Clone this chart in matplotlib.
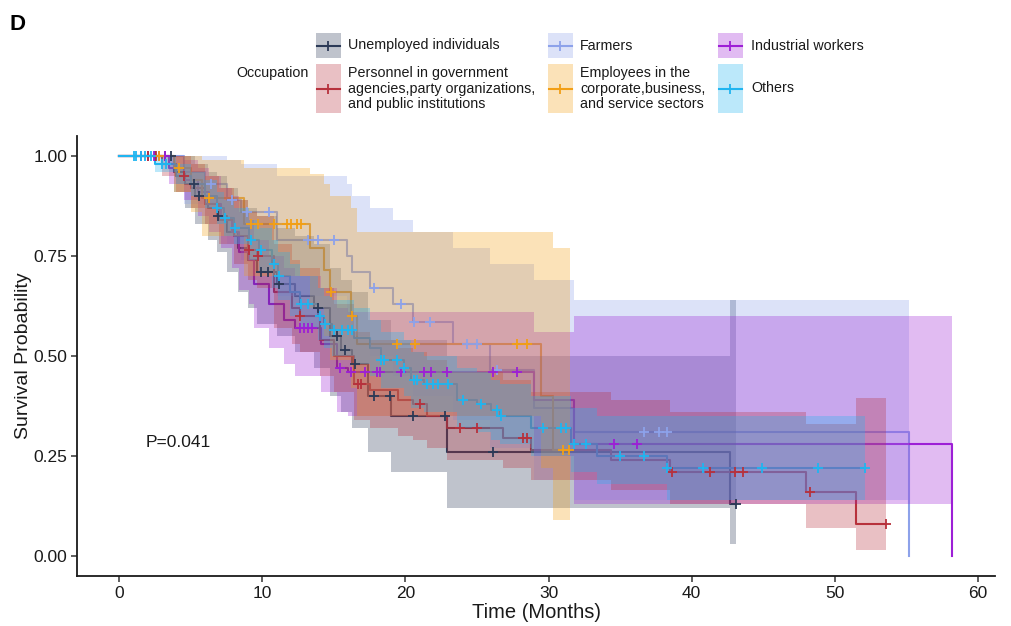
import numpy as np
import matplotlib
matplotlib.use("Agg")
import matplotlib.pyplot as plt
from matplotlib.patches import Rectangle

plt.rcParams['font.family'] = ['Liberation Sans', 'DejaVu Sans']

# ---------------- data ----------------
group_names = ["Unemployed individuals", "Farmers", "Industrial workers",
               "Personnel in government\nagencies,party organizations,\nand public institutions",
               "Employees in the\ncorporate,business,\nand service sectors",
               "Others"]
group_colors = ["#2C3A57", "#8DA2EA", "#9D1FD6", "#B7313C", "#F29F16", "#20B5F0"]

# Unemployed individuals
unemp_t = [0, 3.8, 4.6, 5.3, 6.2, 6.8, 7.5, 8.3, 9.0, 9.6, 11.0, 12.3, 13.6, 14.7, 15.5, 16.3, 17.4, 19.0, 22.9, 42.7, 43.1]
unemp_s = [1.0, 0.96, 0.93, 0.90, 0.87, 0.85, 0.81, 0.77, 0.74, 0.71, 0.68, 0.65, 0.62, 0.55, 0.515, 0.48, 0.40, 0.35, 0.26, 0.13, 0.13]
unemp_lo = [1.0, 0.91, 0.87, 0.83, 0.79, 0.76, 0.71, 0.66, 0.62, 0.58, 0.55, 0.51, 0.47, 0.40, 0.36, 0.32, 0.26, 0.21, 0.12, 0.03, 0.03]
unemp_hi = [1.0, 1.0, 1.0, 0.98, 0.96, 0.95, 0.92, 0.89, 0.87, 0.85, 0.82, 0.80, 0.78, 0.72, 0.69, 0.66, 0.59, 0.54, 0.50, 0.64, 0.64]
unemp_cens = [2.5, 3.2, 3.6, 5.2, 5.6, 6.9, 9.9, 10.4, 11.2, 13.9, 15.2, 15.8, 16.5, 17.8, 18.9, 20.5, 22.8, 26.1, 43.1]

# Farmers
farm_t = [0, 4.5, 6.0, 7.5, 8.5, 11.0, 15.9, 16.3, 17.5, 19.1, 20.5, 23.3, 25.9, 29.0, 31.8, 55.2]
farm_s = [1.0, 0.96, 0.93, 0.89, 0.86, 0.79, 0.75, 0.71, 0.67, 0.63, 0.585, 0.53, 0.465, 0.37, 0.31, 0.0]
farm_lo = [1.0, 0.88, 0.83, 0.78, 0.74, 0.65, 0.60, 0.55, 0.50, 0.45, 0.40, 0.34, 0.27, 0.19, 0.14, 0.0]
farm_hi = [1.0, 1.0, 1.0, 0.99, 0.98, 0.95, 0.93, 0.90, 0.87, 0.84, 0.81, 0.77, 0.73, 0.69, 0.64, 0.0]
farm_cens = [6.4, 7.9, 8.9, 10.5, 13.2, 13.9, 15.0, 17.8, 19.7, 20.6, 21.7, 24.3, 25.0, 26.4, 36.7, 37.7, 38.3]

# Industrial workers
ind_t = [0, 3.5, 4.5, 5.5, 6.3, 7.1, 7.9, 8.4, 9.1, 9.4, 10.5, 11.5, 12.3, 14.1, 15.2, 16.0, 29.0, 31.8, 58.2]
ind_s = [1.0, 0.97, 0.94, 0.91, 0.88, 0.845, 0.81, 0.76, 0.74, 0.68, 0.63, 0.59, 0.57, 0.53, 0.47, 0.46, 0.39, 0.28, 0.0]
ind_lo = [1.0, 0.93, 0.89, 0.85, 0.81, 0.77, 0.72, 0.665, 0.63, 0.57, 0.52, 0.48, 0.45, 0.41, 0.36, 0.35, 0.25, 0.13, 0.0]
ind_hi = [1.0, 1.0, 0.99, 0.97, 0.95, 0.92, 0.90, 0.86, 0.84, 0.79, 0.75, 0.72, 0.70, 0.67, 0.62, 0.61, 0.56, 0.60, 0.0]
ind_cens = [1.5, 2.0, 2.4, 2.8, 3.2, 12.6, 12.9, 13.2, 13.5, 15.4, 16.2, 17.2, 18.0, 18.2, 19.7, 21.3, 21.8, 22.9, 26.1, 27.8, 34.6, 36.2]

# Personnel in government agencies...
pers_t = [0, 3.0, 4.0, 5.0, 6.0, 7.0, 8.0, 9.0, 9.6, 10.8, 12.1, 12.6, 14.0, 15.0, 16.4, 17.5, 19.5, 20.5, 21.5, 22.9, 26.8, 28.8, 34.4, 38.5, 48.0, 51.5, 53.6]
pers_s = [1.0, 0.98, 0.95, 0.92, 0.88, 0.84, 0.80, 0.765, 0.75, 0.66, 0.62, 0.60, 0.54, 0.50, 0.43, 0.415, 0.39, 0.38, 0.35, 0.32, 0.295, 0.265, 0.24, 0.21, 0.16, 0.08, 0.08]
pers_lo = [1.0, 0.95, 0.91, 0.87, 0.83, 0.78, 0.73, 0.69, 0.67, 0.57, 0.53, 0.51, 0.45, 0.41, 0.34, 0.32, 0.30, 0.29, 0.27, 0.24, 0.22, 0.19, 0.165, 0.13, 0.07, 0.015, 0.015]
pers_hi = [1.0, 1.0, 1.0, 0.98, 0.95, 0.92, 0.89, 0.86, 0.85, 0.78, 0.74, 0.72, 0.67, 0.63, 0.56, 0.54, 0.52, 0.51, 0.49, 0.46, 0.44, 0.41, 0.39, 0.36, 0.33, 0.395, 0.395]
pers_cens = [2.0, 2.6, 4.5, 9.1, 9.7, 12.6, 16.7, 16.9, 21.0, 23.8, 25.0, 28.2, 28.5, 38.6, 41.3, 43.0, 43.6, 48.3, 53.6]

# Employees in the corporate, business and service sectors
empl_t = [0, 3.8, 5.0, 5.8, 8.7, 13.3, 14.3, 14.7, 16.2, 16.6, 29.5, 30.3, 31.5]
empl_s = [1.0, 0.97, 0.94, 0.895, 0.83, 0.77, 0.715, 0.66, 0.60, 0.53, 0.40, 0.265, 0.265]
empl_lo = [1.0, 0.91, 0.86, 0.80, 0.70, 0.62, 0.55, 0.49, 0.42, 0.35, 0.22, 0.09, 0.09]
empl_hi = [1.0, 1.0, 1.0, 0.99, 0.97, 0.955, 0.93, 0.90, 0.87, 0.81, 0.81, 0.77, 0.77]
empl_cens = [2.8, 4.2, 6.3, 9.2, 9.7, 10.8, 11.7, 12.0, 12.4, 12.7, 14.8, 16.3, 19.4, 20.7, 27.8, 28.5, 31.0, 31.4]

# Others
oth_t = [0, 2.5, 4.0, 5.0, 6.0, 6.8, 7.3, 8.0, 9.1, 9.8, 10.7, 11.1, 11.9, 12.6, 13.9, 14.3, 14.9, 16.4, 17.5, 18.3, 19.9, 20.4, 21.3, 23.6, 25.0, 26.0, 26.6, 28.8, 31.6, 33.4, 38.3, 52.1]
oth_s = [1.0, 0.98, 0.95, 0.93, 0.90, 0.87, 0.845, 0.82, 0.79, 0.765, 0.73, 0.70, 0.66, 0.63, 0.60, 0.58, 0.565, 0.545, 0.52, 0.49, 0.47, 0.44, 0.43, 0.39, 0.38, 0.365, 0.35, 0.32, 0.28, 0.25, 0.22, 0.22]
oth_lo = [1.0, 0.96, 0.93, 0.90, 0.87, 0.83, 0.80, 0.78, 0.74, 0.71, 0.67, 0.64, 0.60, 0.57, 0.54, 0.52, 0.50, 0.48, 0.45, 0.42, 0.40, 0.37, 0.36, 0.32, 0.31, 0.29, 0.28, 0.25, 0.21, 0.18, 0.14, 0.14]
oth_hi = [1.0, 1.0, 0.98, 0.96, 0.94, 0.91, 0.89, 0.87, 0.84, 0.82, 0.79, 0.76, 0.73, 0.70, 0.67, 0.65, 0.64, 0.62, 0.59, 0.56, 0.54, 0.51, 0.50, 0.47, 0.46, 0.44, 0.43, 0.40, 0.37, 0.35, 0.35, 0.35]
oth_cens = [1.0, 1.2, 1.5, 1.8, 2.2, 3.0, 3.3, 6.8, 7.4, 8.1, 9.2, 9.9, 10.8, 11.2, 12.7, 13.2, 14.0, 14.4, 15.0, 15.6, 16.0, 16.3,
            18.3, 18.5, 19.4, 19.9, 20.6, 20.8, 21.5, 21.9, 22.3, 23.0, 24.0, 25.3, 26.4, 26.7, 29.6, 30.9, 31.2, 31.8, 32.6,
            35.0, 36.7, 38.3, 40.8, 44.9, 48.8, 52.1]

x_ticks = [0, 10, 20, 30, 40, 50, 60]
y_ticks = [0.0, 0.25, 0.5, 0.75, 1.0]
y_tick_labels = ["0.00", "0.25", "0.50", "0.75", "1.00"]
p_text = "P=0.041"
p_pos = (1.85, 0.283)

groups = [
    (unemp_t, unemp_s, unemp_lo, unemp_hi, unemp_cens),
    (farm_t, farm_s, farm_lo, farm_hi, farm_cens),
    (ind_t, ind_s, ind_lo, ind_hi, ind_cens),
    (pers_t, pers_s, pers_lo, pers_hi, pers_cens),
    (empl_t, empl_s, empl_lo, empl_hi, empl_cens),
    (oth_t, oth_s, oth_lo, oth_hi, oth_cens),
]

# ---------------- figure ----------------
W, H = 1012, 626
fig = plt.figure(figsize=(W / 100, H / 100), dpi=100)
ax = fig.add_axes([77 / W, 1 - 576 / H, (995 - 77) / W, (576 - 136) / H])

band_alpha = 0.3
line_w = 1.5
mark_size = 7.5
mark_w = 1.3
for (t, s, lo, hi, c), col in zip(groups, group_colors):
    ax.step(t, s, where='post', color=col, lw=line_w, zorder=2)
for (t, s, lo, hi, c), col in zip(groups, group_colors):
    ax.fill_between(t, lo, hi, step='post', color=col, alpha=band_alpha, lw=0, zorder=3)
for (t, s, lo, hi, c), col in zip(groups, group_colors):
    t_arr = np.asarray(t)
    s_arr = np.asarray(s)
    idx = np.searchsorted(t_arr, np.asarray(c), side='right') - 1
    idx = np.clip(idx, 0, len(s_arr) - 1)
    ax.plot(c, s_arr[idx], linestyle='none', marker='+', ms=mark_size, mew=mark_w, color=col, zorder=4)

ax.set_xlim(-2.95, 61.2)
ax.set_ylim(-0.05, 1.05)
ax.set_xticks(x_ticks)
ax.set_yticks(y_ticks)
ax.set_yticklabels(y_tick_labels)
for sp in ['top', 'right']:
    ax.spines[sp].set_visible(False)
for sp in ['left', 'bottom']:
    ax.spines[sp].set_linewidth(1.3)
    ax.spines[sp].set_color('#1a1a1a')
ax.tick_params(axis='both', direction='out', length=4, width=1.1, color='#333333',
               labelsize=12.5, labelcolor='#1a1a1a', pad=3)
ax.set_xlabel("Time (Months)", fontsize=14.5, labelpad=2, color='#1a1a1a')
ax.set_ylabel("Survival Probability", fontsize=14, labelpad=1, color='#1a1a1a')
ax.text(p_pos[0], p_pos[1], p_text, fontsize=12.5, va='center', ha='left', color='#1a1a1a')

# ---------------- legend (pixel-space overlay) ----------------
lay = fig.add_axes([0, 0, 1, 1], facecolor='none')
lay.set_xlim(0, W)
lay.set_ylim(H, 0)
lay.axis('off')

lay.text(10, 25, "D", fontsize=16, fontweight='bold', va='center', ha='left')
lay.text(236, 73, "Occupation", fontsize=10.3, va='center', ha='left', color='#1a1a1a')

key_x = [316, 548, 718, 316, 548, 718]
key_y = [33, 33, 33, 64, 64, 64]
key_h = [25, 25, 25, 49, 49, 49]
text_x = [348, 580, 751, 348, 580, 751]
for i, (name, col) in enumerate(zip(group_names, group_colors)):
    x0, y0, h = key_x[i], key_y[i], key_h[i]
    lay.add_patch(Rectangle((x0, y0), 25, h, facecolor=col, alpha=band_alpha, lw=0))
    yc = y0 + h / 2
    lay.plot([x0 + 1, x0 + 24], [yc, yc], color=col, lw=line_w)
    lay.plot([x0 + 12.5], [yc], marker='+', ms=mark_size, mew=mark_w, color=col)
    lay.text(text_x[i], yc, name, fontsize=10.3, va='center', ha='left',
             linespacing=1.15, color='#1a1a1a')

fig.savefig("out.png", dpi=100)
